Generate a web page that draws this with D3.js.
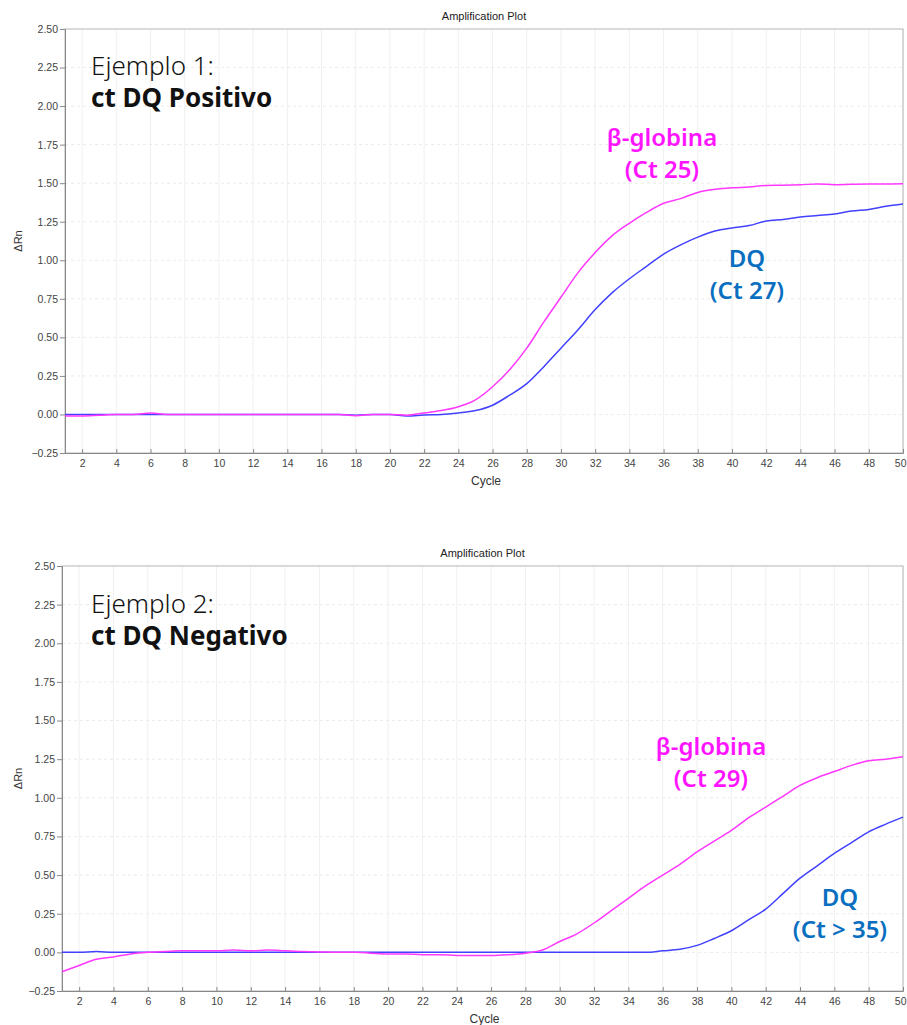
<!DOCTYPE html>
<html>
<head>
<meta charset="utf-8">
<script src="https://cdn.jsdelivr.net/npm/d3@7"></script>
<style>
  html, body { margin: 0; padding: 0; background: #fff; }
  svg { display: block; }
</style>
</head>
<body>
<svg id="chart" width="907" height="1025"></svg>
<script>
// ---------- DATA ----------
const cycles = d3.range(1, 51);
const yTicks = [-0.25, 0, 0.25, 0.5, 0.75, 1.0, 1.25, 1.5, 1.75, 2.0, 2.25, 2.5];
const xTicks = [2,4,6,8,10,12,14,16,18,20,22,24,26,28,30,32,34,36,38,40,42,44,46,48,50];

const ex1Globina = [-0.01,-0.01,-0.005,0,0,0.01,0,0,0,0,0,0,0,0,0,0,0,-0.008,0,0,
  -0.005,0.01,0.025,0.05,0.095,0.18,0.29,0.43,0.6,0.76,0.92,1.05,1.16,1.24,1.31,1.37,1.4,1.44,1.46,1.47,
  1.475,1.485,1.487,1.49,1.495,1.49,1.493,1.495,1.495,1.496];
const ex1DQ = [0,0,0,0,0,0,0,0,0,0,0,0,0,0,0,0,0,-0.005,0,0,
  -0.01,-0.003,0,0.01,0.025,0.06,0.125,0.2,0.31,0.43,0.55,0.68,0.79,0.88,0.96,1.04,1.1,1.15,1.19,1.21,
  1.225,1.255,1.265,1.28,1.29,1.3,1.32,1.33,1.35,1.365];

const ex2Globina = [-0.125,-0.085,-0.045,-0.03,-0.01,0,0.005,0.01,0.01,0.01,0.015,0.01,0.015,0.01,0.005,0.003,0,0,-0.005,-0.01,
  -0.01,-0.015,-0.015,-0.02,-0.02,-0.02,-0.015,-0.005,0.015,0.07,0.12,0.19,0.27,0.35,0.43,0.5,0.57,0.65,0.72,0.79,
  0.87,0.94,1.01,1.08,1.13,1.17,1.21,1.24,1.25,1.265];
const ex2DQ = [0,0,0.005,0,0,0,0,0,0,0,0,0,0,0,0,0,0,0,0,0,
  0,0,0,0,0,0,0,0,0,0,0,0,0,0,0,0.01,0.02,0.045,0.09,0.14,
  0.21,0.28,0.38,0.48,0.56,0.64,0.71,0.78,0.83,0.875];

const titles = ["Amplification Plot", "Amplification Plot"];
const exampleLines = [["Ejemplo 1:", "ct DQ Positivo"], ["Ejemplo 2:", "ct DQ Negativo"]];
const globinaLabels = [["β-globina", "(Ct 25)"], ["β-globina", "(Ct 29)"]];
const dqLabels = [["DQ", "(Ct 27)"], ["DQ", "(Ct > 35)"]];

// ---------- DRAW ----------
const svg = d3.select("#chart");
const magentaLine = "#ff38ff";
const blueLine = "#4141ff";
const magentaText = "#ff14ff";
const blueText = "#0a6fc0";

function drawPanel(p) {
  const g = svg.append("g");
  const x = d3.scaleLinear().domain([1, 50]).range([p.left, p.right]);
  const y = d3.scaleLinear().domain([-0.25, 2.5]).range([p.bottom, p.top]);

  // grid
  g.append("g").selectAll("line.vg").data(xTicks).join("line")
    .attr("x1", d => x(d)).attr("x2", d => x(d))
    .attr("y1", p.top).attr("y2", p.bottom)
    .attr("stroke", "#f0f0f0").attr("stroke-width", 1);
  g.append("g").selectAll("line.hg").data(yTicks.slice(1, -1)).join("line")
    .attr("x1", p.left).attr("x2", p.right)
    .attr("y1", d => y(d)).attr("y2", d => y(d))
    .attr("stroke", "#ebebeb").attr("stroke-width", 1)
    .attr("stroke-dasharray", "3,3");

  // frame
  g.append("rect").attr("x", p.left).attr("y", p.top)
    .attr("width", p.right - p.left).attr("height", p.bottom - p.top)
    .attr("fill", "none").attr("stroke", "#b5b5b5").attr("stroke-width", 1);

  // axes
  const yAxis = d3.axisLeft(y).tickValues(yTicks).tickFormat(d3.format(".2f")).tickSize(5).tickPadding(2);
  const ya = g.append("g").attr("transform", `translate(${p.left},0)`).call(yAxis);
  const xAxis = d3.axisBottom(x).tickValues(xTicks).tickFormat(d3.format("d")).tickSize(-4).tickPadding(7);
  const xa = g.append("g").attr("transform", `translate(0,${p.bottom})`).call(xAxis);
  [ya, xa].forEach(a => {
    a.select(".domain").attr("stroke", "#888");
    a.selectAll(".tick line").attr("stroke", "#888");
    a.selectAll(".tick text").attr("fill", "#444")
      .style("font-family", "'Liberation Sans', Arial, sans-serif").style("font-size", "10.5px");
  });
  // keep the last x label inside the page
  xa.selectAll(".tick").filter(d => d === 50).select("text")
    .attr("text-anchor", "end").attr("dx", "3");

  // title & axis labels
  g.append("text").attr("x", (p.left + p.right) / 2).attr("y", p.top - 9)
    .attr("text-anchor", "middle").attr("fill", "#222")
    .style("font-family", "'Liberation Sans', Arial, sans-serif").style("font-size", "11px")
    .text(p.title);
  g.append("text").attr("x", (p.left + p.right) / 2 + 2).attr("y", p.bottom + 32)
    .attr("text-anchor", "middle").attr("fill", "#333")
    .style("font-family", "'Liberation Sans', Arial, sans-serif").style("font-size", "12px")
    .text("Cycle");
  g.append("text")
    .attr("transform", `translate(22,${(p.top + p.bottom) / 2}) rotate(-90)`)
    .attr("text-anchor", "middle").attr("fill", "#333")
    .style("font-family", "'Liberation Sans', Arial, sans-serif").style("font-size", "11px")
    .text("ΔRn");

  // lines
  const line = d3.line().x((d, i) => x(cycles[i])).y(d => y(d)).curve(d3.curveMonotoneX);
  g.append("path").datum(p.dq).attr("d", line)
    .attr("fill", "none").attr("stroke", blueLine).attr("stroke-width", 1.5);
  g.append("path").datum(p.glob).attr("d", line)
    .attr("fill", "none").attr("stroke", magentaLine).attr("stroke-width", 1.5);

  // annotations
  const ann = g.append("g").style("font-family", "'Noto Sans', Lato, sans-serif");
  ann.append("text").attr("x", 91).attr("y", p.exY).attr("fill", "#111")
    .style("font-size", "26px").style("font-weight", 300).text(p.ex[0]);
  ann.append("text").attr("x", 91).attr("y", p.exY + 32).attr("fill", "#111")
    .style("font-size", "26px").style("font-weight", 700).text(p.ex[1]);
  [[p.gl, p.glPos, magentaText], [p.dqL, p.dqPos, blueText]].forEach(([t, pos, c]) => {
    ann.append("text").attr("x", pos[0]).attr("y", pos[1]).attr("text-anchor", "middle")
      .attr("fill", c).style("font-size", "24px").style("font-weight", 600).text(t[0]);
    ann.append("text").attr("x", pos[0]).attr("y", pos[1] + 32).attr("text-anchor", "middle")
      .attr("fill", c).style("font-size", "24px").style("font-weight", 600).text(t[1]);
  });
}

drawPanel({ left: 65, right: 903, top: 29, bottom: 453, title: titles[0],
  glob: ex1Globina, dq: ex1DQ, ex: exampleLines[0], exY: 75,
  gl: globinaLabels[0], glPos: [662, 146], dqL: dqLabels[0], dqPos: [747, 267] });
drawPanel({ left: 62, right: 903, top: 566, bottom: 991, title: titles[1],
  glob: ex2Globina, dq: ex2DQ, ex: exampleLines[1], exY: 613,
  gl: globinaLabels[1], glPos: [711, 755], dqL: dqLabels[1], dqPos: [840, 906] });
</script>
</body>
</html>
